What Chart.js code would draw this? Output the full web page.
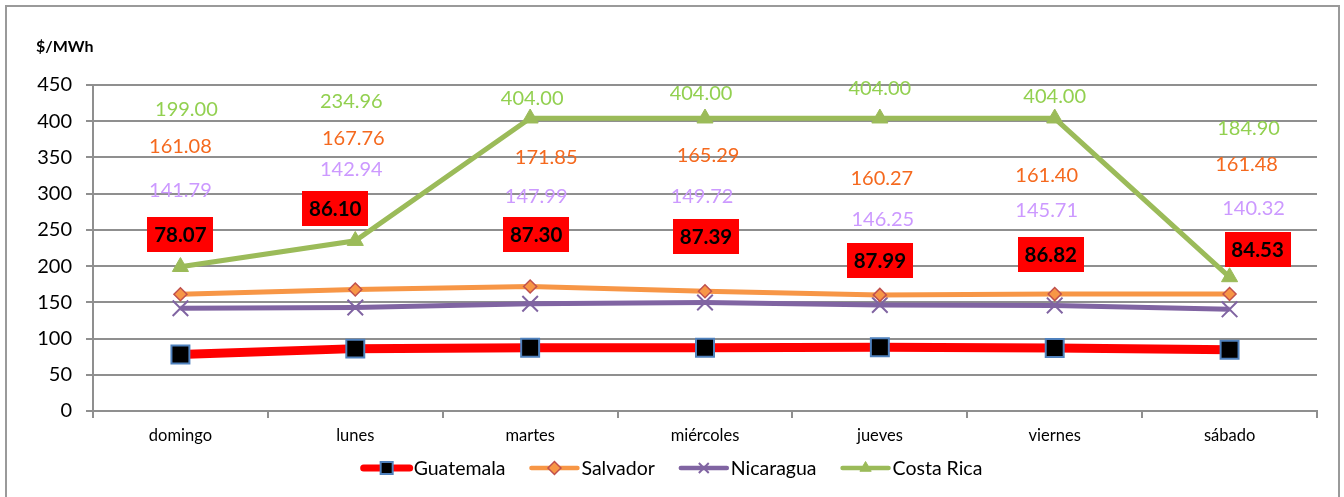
<!DOCTYPE html>
<html>
<head>
<meta charset="utf-8">
<script src="https://cdn.jsdelivr.net/npm/chart.js@4.4.0/dist/chart.umd.min.js"></script>
<style>
  html, body { margin: 0; padding: 0; background: #ffffff; }
  #wrap { width: 1344px; height: 497px; position: relative; }
</style>
</head>
<body>
<div id="wrap"><canvas id="c" width="1344" height="497"></canvas></div>
<script>
// ---- data ----
const categories = ['domingo', 'lunes', 'martes', 'miércoles', 'jueves', 'viernes', 'sábado'];
const guatemala  = [78.07, 86.10, 87.30, 87.39, 87.99, 86.82, 84.53];
const salvador   = [161.08, 167.76, 171.85, 165.29, 160.27, 161.40, 161.48];
const nicaragua  = [141.79, 142.94, 147.99, 149.72, 146.25, 145.71, 140.32];
const costaRica  = [199.00, 234.96, 404.00, 404.00, 404.00, 404.00, 184.90];
const yTicks = { min: 0, max: 450, step: 50 };
const unitTitle = '$/MWh';

// ---- label placement (value-axis anchors and pixel nudges, as in the source) ----
const labelPlacement = {
  Guatemala:   { y: [243.6, 279.5, 243.6, 241, 208, 216, 223], dx: [0, -20, 6, 1, 0, -4, 28] },
  Salvador:    { y: [366, 378, 351, 354, 322, 326, 342],         dx: [0, -2, 16, 3, 2, -8, 17] },
  Nicaragua:   { y: [306, 335, 298, 298, 265, 278, 281],         dx: [0, -4, 6, -3, 3, -8, 24] },
  'Costa Rica':{ y: [418, 428, 433, 440, 446, 436, 391],         dx: [6, -4, 2, -4, 0, 0, 19] }
};

const FONT = 'Lato, "Open Sans", "DejaVu Sans", sans-serif';
const GRID = '#8f8f8f';

const series = [
  { label: 'Guatemala', data: guatemala, borderColor: '#FF0000', borderWidth: 9,
    pointStyle: 'rect', pointRadius: 12.7, pointBackgroundColor: '#000000',
    pointBorderColor: '#4F81BD', pointBorderWidth: 2,
    lab: { color: '#000000', box: '#FF0000', bold: true },
    leg: { width: 7, radius: 8.5 } },
  { label: 'Salvador', data: salvador, borderColor: '#F79646', borderWidth: 5,
    pointStyle: 'rectRot', pointRadius: 6.5, pointBackgroundColor: '#F79646',
    pointBorderColor: '#C0504D', pointBorderWidth: 1.5,
    lab: { color: '#F5691E' },
    leg: { width: 4.5, radius: 6.5 } },
  { label: 'Nicaragua', data: nicaragua, borderColor: '#8064A2', borderWidth: 5,
    pointStyle: 'crossRot', pointRadius: 11, pointBackgroundColor: '#8064A2',
    pointBorderColor: '#8064A2', pointBorderWidth: 2,
    lab: { color: '#CC99FF' },
    leg: { width: 4.5, radius: 7 } },
  { label: 'Costa Rica', data: costaRica, borderColor: '#9BBB59', borderWidth: 5,
    pointStyle: 'triangle', pointRadius: 9.3, pointBackgroundColor: '#9BBB59',
    pointBorderColor: '#9BBB59', pointBorderWidth: 1,
    lab: { color: '#92D050' },
    leg: { width: 4.5, radius: 6.5 } }
];

const datasets = series.map(s => ({
  label: s.label, data: s.data, borderColor: s.borderColor, backgroundColor: s.borderColor,
  borderWidth: s.borderWidth, pointStyle: s.pointStyle, pointRadius: s.pointRadius,
  pointHoverRadius: s.pointRadius, pointBackgroundColor: s.pointBackgroundColor,
  pointBorderColor: s.pointBorderColor, pointBorderWidth: s.pointBorderWidth,
  tension: 0, fill: false, borderJoinStyle: 'miter'
}));

const framePlugin = {
  id: 'frame',
  beforeDraw(chart) {
    const ctx = chart.ctx;
    ctx.save();
    ctx.fillStyle = '#ffffff';
    ctx.fillRect(0, 0, chart.width, chart.height);
    ctx.strokeStyle = '#9a9a9a';
    ctx.lineWidth = 2;
    ctx.strokeRect(6, 6, 1333, 510);
    ctx.fillStyle = '#000000';
    ctx.font = 'bold 16px ' + FONT;
    ctx.textBaseline = 'middle';
    ctx.textAlign = 'left';
    ctx.fillText(unitTitle, 36, 47);
    ctx.restore();
  }
};

const labelPlugin = {
  id: 'valueLabels',
  afterDatasetsDraw(chart) {
    const ctx = chart.ctx;
    const xs = chart.scales.x, ys = chart.scales.y;
    ctx.save();
    ctx.textAlign = 'center';
    ctx.textBaseline = 'middle';
    series.forEach(s => {
      const pl = labelPlacement[s.label];
      s.data.forEach((v, i) => {
        const x = xs.getPixelForValue(i) + pl.dx[i];
        const y = ys.getPixelForValue(pl.y[i]);
        const txt = v.toFixed(2);
        if (s.lab.box) {
          ctx.font = 'bold 20.5px ' + FONT;
          const w = 66, h = 35;
          ctx.fillStyle = s.lab.box;
          ctx.fillRect(Math.round(x - w / 2), Math.round(y - h / 2), w, h);
          ctx.fillStyle = s.lab.color;
          ctx.fillText(txt, x, y + 1);
        } else {
          ctx.font = '20px ' + FONT;
          ctx.fillStyle = s.lab.color;
          ctx.fillText(txt, x, y + 1);
        }
      });
    });
    ctx.restore();
  }
};

const legendPlugin = {
  id: 'lineLegend',
  afterDraw(chart) {
    const ctx = chart.ctx;
    ctx.save();
    ctx.font = '19.5px ' + FONT;
    ctx.textBaseline = 'middle';
    ctx.textAlign = 'left';
    const sample = 50, gapText = 2, gapItem = 24;
    let total = 0;
    const widths = series.map(s => ctx.measureText(s.label).width);
    widths.forEach((w, i) => { total += sample + gapText + w + (i < widths.length - 1 ? gapItem : 0); });
    let x = chart.width / 2 - total / 2;
    const y = 468;
    series.forEach((s, i) => {
      ctx.strokeStyle = s.borderColor;
      ctx.lineWidth = s.leg.width;
      ctx.lineCap = 'round';
      ctx.beginPath();
      ctx.moveTo(x + 2, y);
      ctx.lineTo(x + sample - 2, y);
      ctx.stroke();
      ctx.lineCap = 'butt';
      ctx.fillStyle = s.pointBackgroundColor;
      ctx.strokeStyle = s.pointBorderColor;
      ctx.lineWidth = s.pointBorderWidth;
      Chart.helpers.drawPoint(ctx, { pointStyle: s.pointStyle, radius: s.leg.radius, rotation: 0, borderWidth: s.pointBorderWidth }, x + sample / 2, y);
      ctx.fillStyle = '#000000';
      ctx.fillText(s.label, x + sample + gapText, y + 1);
      x += sample + gapText + widths[i] + gapItem;
    });
    ctx.restore();
  }
};

new Chart(document.getElementById('c'), {
  type: 'line',
  data: { labels: categories, datasets },
  options: {
    responsive: false,
    animation: false,
    events: [],
    layout: { padding: { top: 85, left: 0, right: 27, bottom: 48 } },
    plugins: { legend: { display: false }, tooltip: { enabled: false }, title: { display: false } },
    scales: {
      x: {
        offset: true,
        grid: { display: true, drawOnChartArea: false, drawTicks: true, tickLength: 7, offset: true, color: GRID, lineWidth: 2 },
        border: { display: true, color: GRID, width: 2 },
        ticks: { color: '#000000', font: { family: FONT, size: 16.5 }, padding: 8, maxRotation: 0 },
        afterFit(scale) { scale.height = 38; }
      },
      y: {
        min: yTicks.min, max: yTicks.max,
        grid: { color: GRID, lineWidth: 2, drawTicks: true, tickLength: 7 },
        border: { display: true, color: GRID, width: 2 },
        ticks: { stepSize: yTicks.step, color: '#000000', font: { family: FONT, size: 20 }, padding: 14 },
        afterFit(scale) { scale.width = 93; }
      }
    }
  },
  plugins: [framePlugin, labelPlugin, legendPlugin]
});
</script>
</body>
</html>
